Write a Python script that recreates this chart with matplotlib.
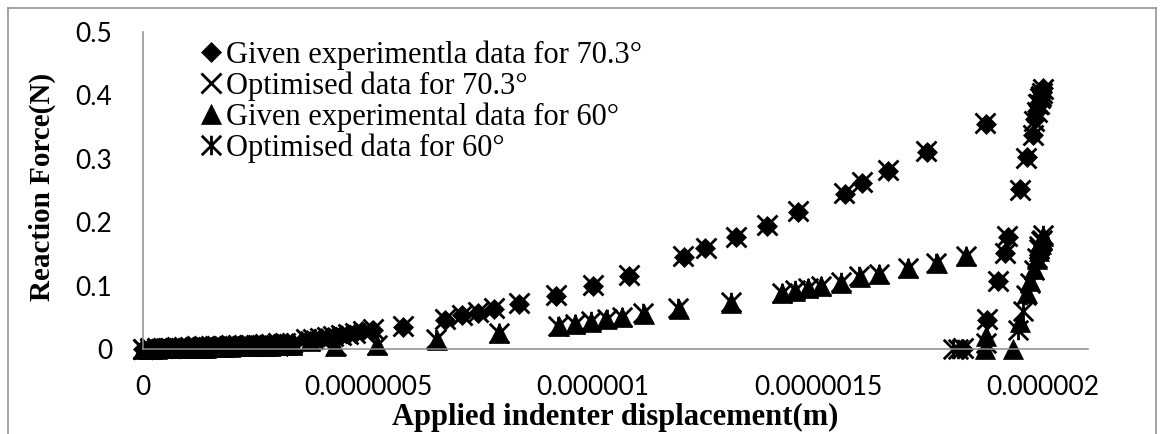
"""Indentation load-displacement chart: given vs optimised data for 70.3 and 60 degree indenters."""

import matplotlib

matplotlib.use("Agg")
import matplotlib.pyplot as plt
import numpy as np
from matplotlib.lines import Line2D
from matplotlib.path import Path

# displacement values in micrometres, force in N
x_given70 = [
    0.000, 0.010, 0.020, 0.030, 0.040, 0.050, 0.060, 0.070, 0.080, 0.100,
    0.110, 0.120, 0.130, 0.140, 0.150, 0.160, 0.170, 0.180, 0.190, 0.200,
    0.210, 0.220, 0.230, 0.240, 0.250, 0.260, 0.270, 0.280, 0.290, 0.300,
    0.310, 0.320, 0.330, 0.365, 0.380, 0.395, 0.410, 0.425, 0.440, 0.455,
    0.470, 0.487, 0.511, 0.578, 0.671, 0.709, 0.744, 0.780, 0.836, 0.918,
    1.000, 1.080, 1.202, 1.249, 1.318, 1.387, 1.456, 1.560, 1.598, 1.656,
    1.742, 1.873, 1.988, 1.994, 1.998, 2.000, 1.998, 1.995, 1.991, 1.987,
    1.982, 1.978, 1.964, 1.949, 1.922, 1.916, 1.900, 1.876, 1.822,
]
y_given70 = [
    0.000, 0.000, 0.000, 0.001, 0.001, 0.001, 0.001, 0.002, 0.002, 0.002,
    0.002, 0.003, 0.003, 0.003, 0.003, 0.004, 0.004, 0.004, 0.004, 0.005,
    0.005, 0.005, 0.005, 0.006, 0.006, 0.006, 0.007, 0.007, 0.007, 0.008,
    0.008, 0.009, 0.010, 0.014, 0.016, 0.017, 0.019, 0.020, 0.022, 0.024,
    0.025, 0.028, 0.030, 0.035, 0.046, 0.054, 0.057, 0.063, 0.071, 0.084,
    0.100, 0.115, 0.145, 0.159, 0.176, 0.194, 0.216, 0.245, 0.262, 0.281,
    0.311, 0.355, 0.385, 0.398, 0.406, 0.412, 0.405, 0.398, 0.388, 0.376,
    0.362, 0.338, 0.303, 0.252, 0.177, 0.151, 0.107, 0.046, 0.000,
]

x_opt70 = [
    0.000, 0.015, 0.030, 0.045, 0.060, 0.075, 0.090, 0.105, 0.120, 0.135,
    0.150, 0.165, 0.180, 0.195, 0.210, 0.225, 0.240, 0.255, 0.270, 0.285,
    0.300, 0.315, 0.330, 0.362, 0.378, 0.393, 0.408, 0.423, 0.439, 0.455,
    0.471, 0.488, 0.512, 0.577, 0.670, 0.708, 0.745, 0.781, 0.835, 0.917,
    0.999, 1.079, 1.201, 1.250, 1.317, 1.386, 1.455, 1.558, 1.597, 1.655,
    1.741, 1.872, 1.989, 1.995, 1.999, 1.997, 1.994, 1.990, 1.986, 1.981,
    1.977, 1.963, 1.948, 1.921, 1.915, 1.899, 1.875, 1.823,
]
y_opt70 = [
    0.000, 0.001, 0.001, 0.002, 0.002, 0.003, 0.003, 0.003, 0.004, 0.004,
    0.005, 0.005, 0.005, 0.006, 0.006, 0.006, 0.007, 0.007, 0.008, 0.008,
    0.009, 0.009, 0.010, 0.015, 0.016, 0.018, 0.019, 0.021, 0.022, 0.024,
    0.026, 0.028, 0.031, 0.036, 0.047, 0.053, 0.058, 0.064, 0.072, 0.085,
    0.101, 0.116, 0.146, 0.160, 0.177, 0.195, 0.217, 0.246, 0.263, 0.282,
    0.312, 0.356, 0.386, 0.399, 0.410, 0.404, 0.396, 0.386, 0.374, 0.360,
    0.337, 0.302, 0.251, 0.178, 0.152, 0.108, 0.047, 0.001,
]

x_given60 = [
    0.000, 0.010, 0.020, 0.030, 0.040, 0.050, 0.060, 0.070, 0.080, 0.100,
    0.110, 0.120, 0.130, 0.140, 0.150, 0.160, 0.170, 0.180, 0.190, 0.200,
    0.210, 0.220, 0.230, 0.240, 0.250, 0.260, 0.270, 0.280, 0.290, 0.300,
    0.310, 0.320, 0.330, 0.370, 0.427, 0.520, 0.653, 0.791, 0.924, 0.960,
    0.996, 1.029, 1.064, 1.113, 1.191, 1.307, 1.420, 1.449, 1.478, 1.507,
    1.551, 1.593, 1.636, 1.700, 1.764, 1.829, 1.990, 1.996, 2.000, 1.998,
    1.995, 1.991, 1.986, 1.979, 1.972, 1.964, 1.949, 1.933, 1.874, 1.872,
]
y_given60 = [
    0.000, 0.000, 0.000, 0.000, 0.001, 0.001, 0.001, 0.001, 0.001, 0.002,
    0.002, 0.002, 0.002, 0.002, 0.003, 0.003, 0.003, 0.003, 0.003, 0.004,
    0.004, 0.004, 0.004, 0.004, 0.005, 0.005, 0.005, 0.005, 0.006, 0.006,
    0.006, 0.006, 0.007, 0.012, 0.004, 0.006, 0.014, 0.025, 0.036, 0.039,
    0.043, 0.047, 0.050, 0.055, 0.063, 0.073, 0.088, 0.092, 0.096, 0.099,
    0.104, 0.114, 0.118, 0.127, 0.135, 0.146, 0.160, 0.170, 0.178, 0.172,
    0.165, 0.155, 0.142, 0.126, 0.108, 0.088, 0.043, 0.000, 0.020, 0.000,
]

x_opt60 = [
    0.000, 0.015, 0.030, 0.045, 0.060, 0.075, 0.090, 0.105, 0.120, 0.135,
    0.150, 0.165, 0.180, 0.195, 0.210, 0.225, 0.240, 0.255, 0.270, 0.285,
    0.300, 0.315, 0.330, 0.372, 0.428, 0.521, 0.652, 0.790, 0.923, 0.959,
    0.995, 1.030, 1.065, 1.112, 1.190, 1.306, 1.419, 1.448, 1.477, 1.506,
    1.550, 1.592, 1.635, 1.699, 1.763, 1.828, 1.991, 1.997, 1.999, 1.996,
    1.992, 1.987, 1.980, 1.971, 1.963, 1.955, 1.944, 1.873, 1.810, 1.800,
]
y_opt60 = [
    0.000, 0.000, 0.001, 0.001, 0.001, 0.001, 0.002, 0.002, 0.002, 0.002,
    0.003, 0.003, 0.003, 0.003, 0.004, 0.004, 0.004, 0.004, 0.005, 0.005,
    0.005, 0.006, 0.006, 0.013, 0.005, 0.007, 0.015, 0.026, 0.037, 0.040,
    0.044, 0.048, 0.051, 0.056, 0.064, 0.074, 0.089, 0.093, 0.097, 0.100,
    0.105, 0.115, 0.119, 0.128, 0.136, 0.147, 0.162, 0.172, 0.180, 0.170,
    0.158, 0.144, 0.124, 0.104, 0.085, 0.060, 0.030, 0.010, 0.000, 0.000,
]

series_labels = [
    "Given experimentla data for 70.3°",
    "Optimised data for 70.3°",
    "Given experimental data for 60°",
    "Optimised data for 60°",
]
x_ticks = [0, 0.0000005, 0.000001, 0.0000015, 0.000002]
x_tick_labels = ["0", "0.0000005", "0.000001", "0.0000015", "0.000002"]
y_ticks = [0, 0.1, 0.2, 0.3, 0.4, 0.5]
y_tick_labels = ["0", "0.1", "0.2", "0.3", "0.4", "0.5"]

# Excel "star" marker: an x with a vertical bar through it
star = Path(
    [(-1, -1), (1, 1), (-1, 1), (1, -1), (0, -1), (0, 1)],
    [Path.MOVETO, Path.LINETO, Path.MOVETO, Path.LINETO, Path.MOVETO, Path.LINETO],
)

SERIF = ["Liberation Serif", "DejaVu Serif"]
TICK_FONT = ["Lato", "DejaVu Sans"]
GRAY = "#8c8c8c"

fig = plt.figure(figsize=(11.64, 4.34), dpi=100)
ax = fig.add_axes([143 / 1164, 1 - 349 / 434, 945 / 1164, 317 / 434])

um = 1e-6
styles = [
    dict(marker="D", ms=9.8, mec="black", mfc="black", mew=0.5),
    dict(marker="x", ms=14, mec="black", mew=2.0),
    dict(marker="^", ms=14, mec="black", mfc="black", mew=0.5),
    dict(marker=star, ms=14, mec="black", mew=2.0),
]
data = [
    (x_given70, y_given70),
    (x_opt70, y_opt70),
    (x_given60, y_given60),
    (x_opt60, y_opt60),
]
for (xs, ys), st, label in zip(data, styles, series_labels):
    ax.plot(np.array(xs) * um, ys, linestyle="none", clip_on=False, label=label, **st)

ax.set_xlim(0, 0.0000021)
ax.set_ylim(0, 0.5)
ax.set_xticks(x_ticks)
ax.set_xticklabels(x_tick_labels, family=TICK_FONT, fontsize=19)
ax.set_yticks(y_ticks)
ax.set_yticklabels(y_tick_labels, family=TICK_FONT, fontsize=19)
ax.tick_params(axis="both", length=0)
ax.tick_params(axis="x", pad=19)
ax.tick_params(axis="y", pad=22)

for side in ("top", "right"):
    ax.spines[side].set_visible(False)
for side in ("left", "bottom"):
    ax.spines[side].set_color(GRAY)
    ax.spines[side].set_linewidth(1.1)

ax.set_xlabel("Applied indenter displacement(m)", family=SERIF, fontsize=22, fontweight="bold")
ax.xaxis.set_label_coords(0.5, -0.17)
ax.set_ylabel("Reaction Force(N)", family=SERIF, fontsize=21, fontweight="bold")
ax.yaxis.set_label_coords(-0.092, 0.51)

leg = ax.legend(
    loc="upper left",
    bbox_to_anchor=(202 / 1164, 1 - 40 / 434),
    bbox_transform=fig.transFigure,
    frameon=False,
    prop={"family": SERIF, "size": 22},
    handlelength=0.6,
    handletextpad=0.2,
    labelspacing=0.05,
    borderpad=0,
    borderaxespad=0,
    numpoints=1,
)

# chart-area border (left, top, right edges)
for xs, ys in [((8, 8), (0, 426)), ((8, 1156), (426, 426)), ((1156, 1156), (426, 0))]:
    fig.add_artist(Line2D(np.array(xs) / 1164, np.array(ys) / 434,
                          transform=fig.transFigure, color=GRAY, lw=1.1))

fig.savefig("out.png", dpi=100)
